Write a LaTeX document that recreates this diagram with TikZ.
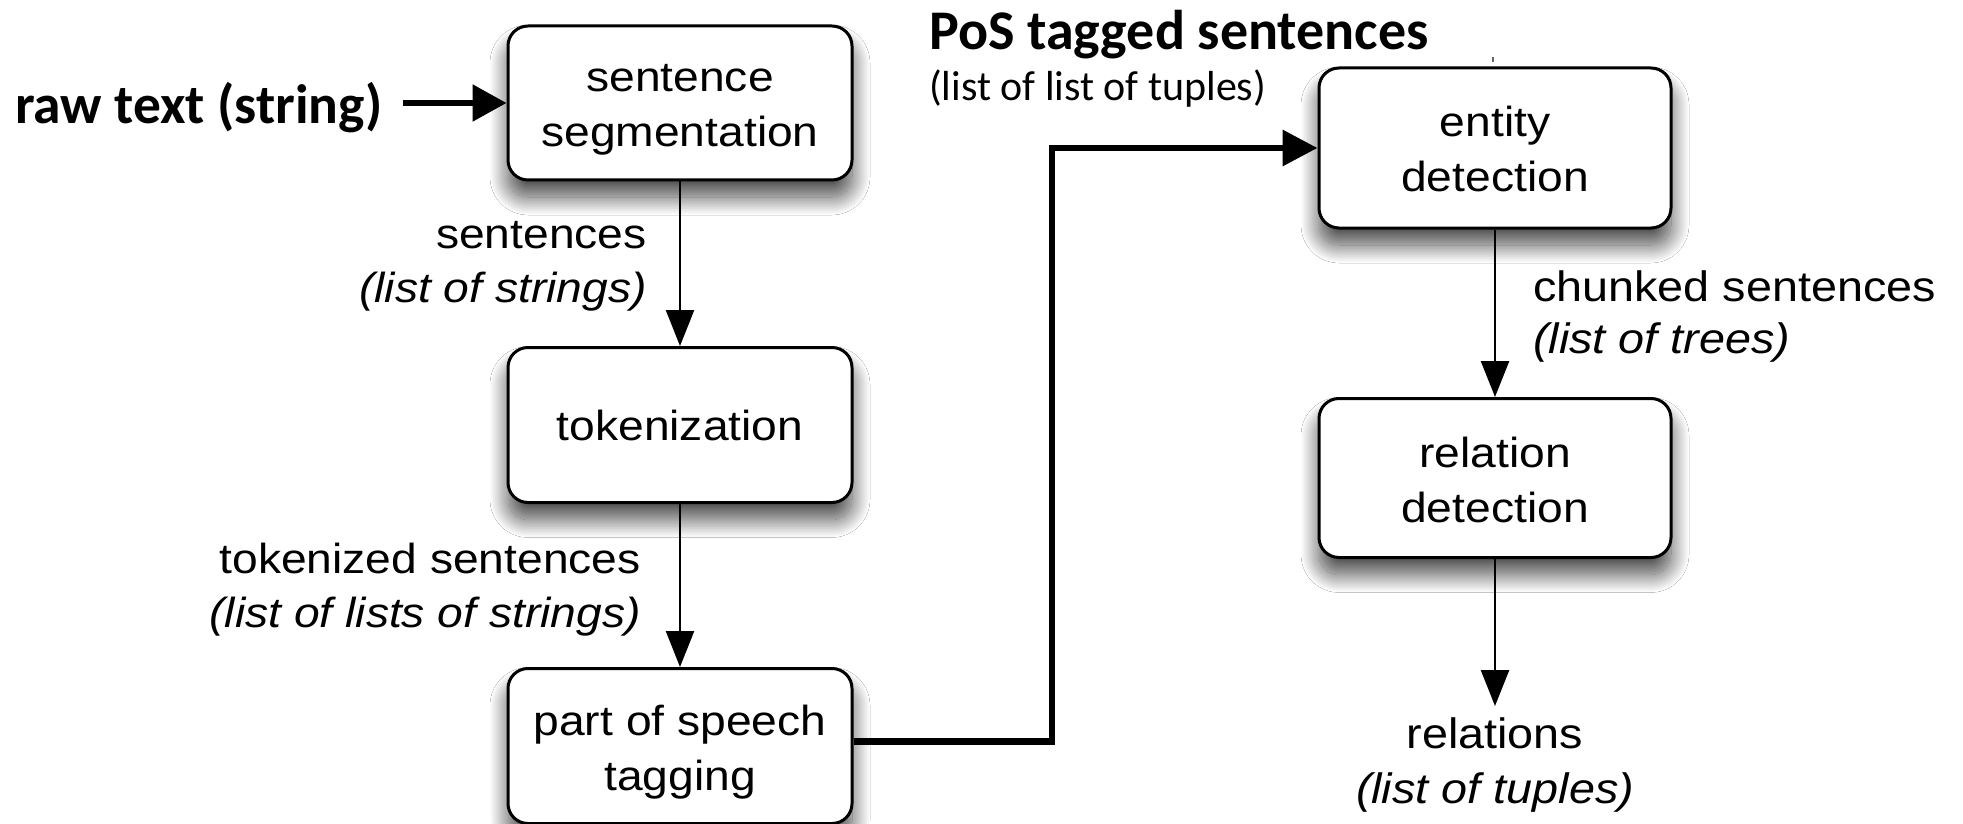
\documentclass[tikz,border=0pt]{standalone}
\usepackage{fontspec}
\usetikzlibrary{arrows.meta,shadows.blur}
\newfontfamily\helv[FakeStretch=1.1]{Liberation Sans}
\newfontfamily\calib{Carlito}

\begin{document}
\begin{tikzpicture}[x=1pt,y=-1pt,
  stage/.style={draw=black, line width=3pt, rounded corners=20pt, fill=white,
    align=center, inner sep=0pt,
    font=\helv\fontsize{42}{55}\selectfont,
    blur shadow={shadow xshift=0pt, shadow yshift=-17pt,
                 shadow blur radius=18pt, shadow blur steps=30,
                 shadow opacity=72}},
  twoline/.style={text depth=0pt, text height=88pt},
  lab/.style={inner sep=0pt, font=\helv\fontsize{42}{54}\selectfont},
  flow/.style={line width=2.5pt, -{Triangle[length=36pt,width=28pt]}},
  feed/.style={line width=5.5pt, -{Triangle[length=34pt,width=36pt]}},
  bigflow/.style={line width=6.5pt, line join=miter, -{Triangle[length=35pt,width=35pt]}},
  title/.style={inner sep=0pt, anchor=base west}
]
\useasboundingbox[fill=white] (0,0) rectangle (1963,824);

% processing stages
\node[stage, twoline, minimum width=344pt, minimum height=154pt] (seg) at (680,103) {sentence\\segmentation};
\node[stage, minimum width=344pt, minimum height=155pt] (tok) at (680,425) {tokenization};
\node[stage, twoline, minimum width=344pt, minimum height=155pt] (pos) at (680,746) {part of speech\\tagging};
\node[stage, twoline, minimum width=352pt, minimum height=160pt] (ent) at (1495,148) {entity\\detection};
\node[stage, twoline, minimum width=352pt, minimum height=159pt] (rel) at (1495,478) {relation\\detection};

% input and intermediate data
\node[title, font=\calib\bfseries\fontsize{55.5}{60}\selectfont] (raw) at (15,124) {raw text (string)};
\node[title, font=\calib\bfseries\fontsize{56}{60}\selectfont] (postitle) at (929,50) {PoS tagged sentences};
\node[title, font=\calib\fontsize{42}{50}\selectfont] (posdesc) at (929,101) {(list of list of tuples)};

\node[lab, anchor=base east, align=right] (sents) at (647,302) {sentences\\\textit{(list of strings)}};
\node[lab, anchor=base east, align=right] (toks) at (641,627) {tokenized sentences\\\textit{(list of lists of strings)}};
\node[lab, anchor=base west, align=left, font=\helv\fontsize{42.5}{52}\selectfont] (chunks) at (1533,353) {chunked sentences\\\textit{(list of trees)}};
\node[lab, anchor=base, align=center, font=\helv\fontsize{42.5}{55}\selectfont] (rels) at (1495,803) {relations\\\textit{(list of tuples)}};

% connectors
\draw[feed, shorten <=21pt] (raw.east |- seg.west) -- (seg.west);
\draw[flow] (seg) -- (tok);
\draw[flow] (tok) -- (pos);
\coordinate (bend) at (1052,0);
\draw[bigflow] ([yshift=4.5pt]pos.east) -| (bend |- ent.west) -- (ent.west);
\draw[flow] (ent) -- (rel);
\draw[flow, shorten >=11pt] (rel) -- (rels.north);

% small stray tick above the entity stage
\draw[line width=1.2pt, black!60] (1493,57) -- (1493,62);
\end{tikzpicture}
\end{document}
